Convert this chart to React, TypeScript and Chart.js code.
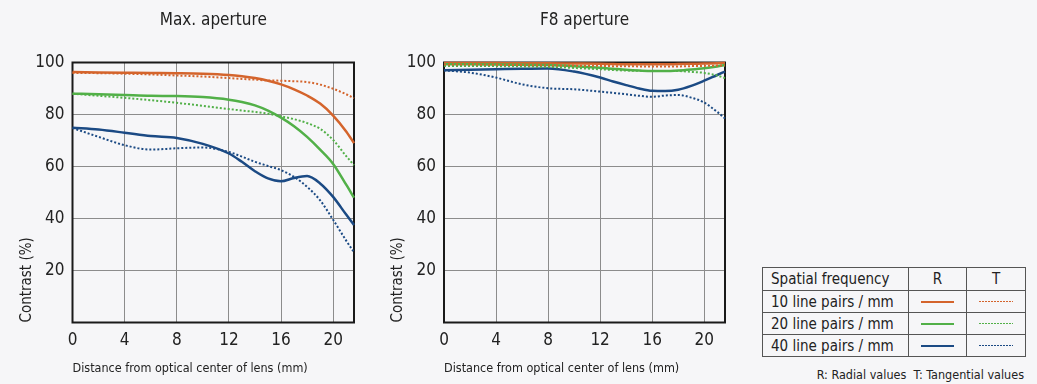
import React, { useEffect, useRef } from "react";
import { Chart, registerables } from "chart.js";

Chart.register(...registerables);

// ---------- data ----------
const distances = [0, 2, 4, 6, 8, 10, 12, 13, 14, 15, 16, 17, 18, 19, 20, 21, 21.6];
const xTicks = [0, 4, 8, 12, 16, 20];
const yTicks = [0, 20, 40, 60, 80, 100];

// Max. aperture
const maxR10 = [96.3, 96.2, 96.1, 96.0, 95.9, 95.7, 95.2, 94.7, 94.0, 93.0, 91.6, 89.7, 87.3, 84.2, 79.6, 73.5, 69.0];
const maxT10 = [96.0, 95.9, 95.7, 95.4, 95.0, 94.6, 94.0, 93.7, 93.4, 93.1, 93.0, 92.8, 92.5, 91.5, 89.9, 87.8, 86.3];
const maxR20 = [88.0, 87.8, 87.5, 87.2, 87.1, 86.7, 85.7, 84.8, 83.5, 81.5, 78.8, 75.5, 71.4, 66.5, 61.0, 53.0, 48.0];
const maxT20 = [88.0, 87.2, 86.4, 85.5, 84.5, 83.3, 82.1, 81.5, 81.0, 80.3, 79.3, 78.2, 76.7, 74.5, 70.2, 64.0, 60.5];
const maxR40 = [74.9, 74.2, 73.0, 71.7, 71.0, 68.7, 65.0, 61.8, 58.2, 55.4, 54.3, 55.6, 56.3, 53.5, 48.3, 41.5, 37.5];
const maxT40 = [74.8, 71.4, 68.2, 66.5, 67.0, 67.3, 65.6, 63.8, 61.8, 60.2, 58.6, 56.0, 52.2, 47.0, 39.5, 31.5, 27.0];

// F8 aperture
const f8R10 = [99.8, 99.8, 99.8, 99.7, 99.7, 99.6, 99.5, 99.4, 99.3, 99.3, 99.3, 99.3, 99.4, 99.5, 99.6, 99.7, 99.8];
const f8T10 = [99.2, 99.2, 99.1, 99.0, 98.9, 98.8, 98.7, 98.6, 98.6, 98.5, 98.5, 98.5, 98.5, 98.6, 98.7, 98.8, 98.9];
const f8R20 = [99.3, 99.3, 99.2, 99.1, 99.0, 98.6, 98.0, 97.6, 97.2, 96.9, 96.7, 96.7, 96.9, 97.3, 97.8, 98.5, 99.0];
const f8T20 = [98.7, 98.7, 98.6, 98.5, 98.3, 97.9, 97.4, 97.1, 96.9, 96.8, 96.7, 96.7, 96.7, 96.4, 96.0, 95.0, 94.0];
const f8R40 = [97.0, 97.2, 97.4, 97.6, 97.7, 96.5, 94.2, 92.7, 91.3, 90.0, 89.1, 89.0, 89.5, 91.0, 93.0, 95.2, 96.5];
const f8T40 = [97.0, 96.1, 94.2, 91.6, 90.1, 89.7, 88.8, 88.3, 87.8, 87.2, 86.8, 87.3, 87.5, 86.5, 84.6, 81.0, 78.5];

const legendRows = ["10 line pairs / mm", "20 line pairs / mm", "40 line pairs / mm"];

// ---------- styles ----------
const ORANGE = "#d4642c";
const GREEN = "#52b048";
const BLUE = "#1b4a84";
const BG = "#f6f6f8";
const FONT = "'Liberation Sans Narrow', 'DejaVu Sans Condensed', 'Noto Sans', sans-serif";
const TEXT = "#222";

const framePlugin = {
  id: "frame",
  beforeDatasetsDraw(chart: any) {
    const { ctx, chartArea } = chart;
    ctx.save();
    ctx.strokeStyle = "#1a1a1a";
    ctx.lineWidth = 2;
    ctx.strokeRect(chartArea.left, chartArea.top, chartArea.right - chartArea.left, chartArea.bottom - chartArea.top);
    ctx.restore();
  },
};

function series(values: number[], color: string, dotted: boolean, label: string) {
  return {
    label,
    data: distances.map((x, i) => ({ x, y: values[i] })),
    borderColor: color,
    borderWidth: dotted ? 2 : 2.5,
    borderDash: dotted ? [2, 2] : [],
    pointRadius: 0,
    cubicInterpolationMode: "monotone" as const,
    fill: false,
    clip: 4,
  };
}

function MtfChart({ title, data, left, axisWidth }: { title: string; data: number[][]; left: number; axisWidth: number }) {
  const ref = useRef<HTMLCanvasElement>(null);
  useEffect(() => {
    if (!ref.current) return;
    const [r10, t10, r20, t20, r40, t40] = data;
    const chart = new Chart(ref.current, {
      type: "line",
      data: {
        datasets: [
          series(t10, ORANGE, true, "10 T"),
          series(t20, GREEN, true, "20 T"),
          series(t40, BLUE, true, "40 T"),
          series(r40, BLUE, false, "40 R"),
          series(r20, GREEN, false, "20 R"),
          series(r10, ORANGE, false, "10 R"),
        ] as any,
      },
      options: {
        responsive: false,
        maintainAspectRatio: false,
        animation: false,
        layout: { padding: { left: 0, right: 16, top: 0, bottom: 0 } },
        plugins: {
          legend: { display: false },
          tooltip: { enabled: false },
          title: {
            display: true,
            text: title,
            fullSize: false,
            color: TEXT,
            font: { family: FONT, size: 17, weight: "normal" },
            padding: { top: 10, bottom: 32.1 },
          },
        },
        scales: {
          x: {
            type: "linear",
            min: 0,
            max: 21.6,
            afterBuildTicks: (s: any) => {
              s.ticks = xTicks.map((v) => ({ value: v }));
            },
            afterFit: (s: any) => {
              s.height = 61.5;
            },
            grid: { color: "#8c8c8c", lineWidth: 1, drawTicks: false },
            border: { display: false },
            ticks: { color: TEXT, padding: 8, font: { family: FONT, size: 17 }, maxRotation: 0 },
            title: {
              display: true,
              text: "Distance from optical center of lens (mm)",
              align: "start",
              color: TEXT,
              font: { family: FONT, size: 12.5 },
              padding: { top: 0, bottom: 7.5 },
            },
          },
          y: {
            type: "linear",
            min: 0,
            max: 100,
            afterBuildTicks: (s: any) => {
              s.ticks = yTicks.map((v) => ({ value: v }));
            },
            afterFit: (s: any) => {
              s.width = axisWidth;
            },
            grid: { color: "#8c8c8c", lineWidth: 1, drawTicks: false },
            border: { display: false },
            ticks: {
              color: TEXT,
              padding: 8,
              font: { family: FONT, size: 17 },
              callback: (v: any) => (v === 0 ? "" : String(v)),
            },
            title: {
              display: true,
              text: "Contrast (%)",
              align: "start",
              color: TEXT,
              font: { family: FONT, size: 15 },
              padding: { top: 18, bottom: 0 },
            },
          },
        },
      } as any,
      plugins: [framePlugin],
    });
    return () => chart.destroy();
  }, []);
  return (
    <canvas
      ref={ref}
      width={370}
      height={384}
      style={{ position: "absolute", left, top: 0, width: 370, height: 384 }}
    />
  );
}

function Legend() {
  const cell: React.CSSProperties = {
    border: "1px solid #555",
    padding: "0 0 0 8px",
    height: 21,
    fontFamily: FONT,
    fontSize: 15,
    color: TEXT,
    whiteSpace: "nowrap",
  };
  const center: React.CSSProperties = { ...cell, padding: 0, textAlign: "center" };
  const colors = [ORANGE, GREEN, BLUE];
  return (
    <>
      <table
        style={{
          position: "absolute",
          left: 762,
          top: 267,
          width: 263,
          borderCollapse: "collapse",
          tableLayout: "fixed",
        }}
      >
        <colgroup>
          <col style={{ width: 146 }} />
          <col style={{ width: 58 }} />
          <col style={{ width: 59 }} />
        </colgroup>
        <tbody>
          <tr>
            <td style={{ ...cell, height: 22 }}>Spatial frequency</td>
            <td style={{ ...center, height: 22 }}>R</td>
            <td style={{ ...center, height: 22 }}>T</td>
          </tr>
          {legendRows.map((label, i) => (
            <tr key={label}>
              <td style={cell}>{label}</td>
              <td style={center}>
                <div style={{ width: 33, height: 2, margin: "0 auto", background: colors[i] }} />
              </td>
              <td style={center}>
                <div
                  style={{
                    width: 34,
                    height: 1.5,
                    margin: "0 auto",
                    background: `repeating-linear-gradient(to right, ${colors[i]} 0px, ${colors[i]} 2px, transparent 2px, transparent 3px)`,
                  }}
                />
              </td>
            </tr>
          ))}
        </tbody>
      </table>
      <div
        style={{
          position: "absolute",
          right: 1037 - 1024,
          top: 367,
          fontFamily: FONT,
          fontSize: 12.5,
          color: TEXT,
          whiteSpace: "pre",
        }}
      >
        {"R: Radial values  T: Tangential values"}
      </div>
    </>
  );
}

export default function App() {
  return (
    <div
      style={{
        position: "fixed",
        left: 0,
        top: 0,
        width: 1037,
        height: 384,
        background: BG,
        overflow: "hidden",
      }}
    >
      <MtfChart title="Max. aperture" data={[maxR10, maxT10, maxR20, maxT20, maxR40, maxT40]} left={0} axisWidth={72.5} />
      <MtfChart title="F8 aperture" data={[f8R10, f8T10, f8R20, f8T20, f8R40, f8T40]} left={371} axisWidth={73} />
      <Legend />
    </div>
  );
}
